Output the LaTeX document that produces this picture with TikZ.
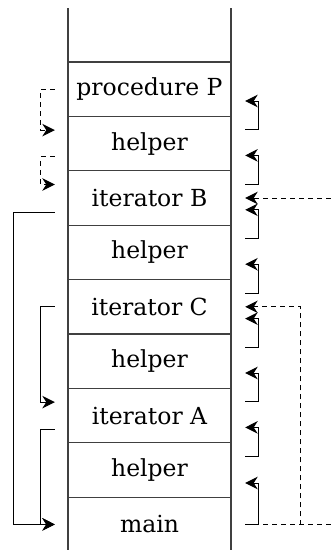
\documentclass[tikz,border=0pt]{standalone}
\usepackage{fontspec}
\setmainfont{DejaVu Serif}
\usetikzlibrary{arrows.meta,calc}
\tikzset{
  cadre/.style={line width=1.1pt, black!75},
  case/.style={minimum width=163pt, minimum height=54.4pt, inner sep=0pt, font=\fontsize{23.5}{28}\selectfont},
  retour/.style={line width=1pt, arrows={-Stealth[length=12.5pt,width=12.5pt,inset=4pt]}},
  appel/.style={retour, dash pattern=on 5pt off 4pt},
}
\begin{document}
\begin{tikzpicture}[x=1pt,y=-1pt]
	\useasboundingbox (0,0) rectangle (331,550);
	% la pile
	\draw[cadre] (68,8) -- (68,550);
	\draw[cadre] (231,8) -- (231,550);
	\foreach \i in {0,...,8}
		\draw[cadre] (68,62+54.4*\i) -- (231,62+54.4*\i);
	\foreach \nom [count=\i from 0] in {procedure P,helper,iterator B,helper,iterator C,helper,iterator A,helper,main}
		\node[case] (r\i) at (149.5,89.2+54.4*\i) {\nom};
	% les retours a droite
	\foreach \i [evaluate=\i as \j using int(\i+1)] in {0,...,6}
		\draw[retour] ($(r\j.east)+(14,-13.7)$) -| ($(r\i.east)+(27,11.8)$) -- ($(r\i.east)+(14,11.8)$);
	\draw[retour] ($(r8.east)+(14,0)$) -| ($(r7.east)+(27,13)$) -- ($(r7.east)+(14,13)$);
	% les appels en pointille
	\draw[appel] ($(r8.east)+(14,0)$) -| ($(r4.east)+(69,0)$) -- ($(r4.east)+(14,0)$);
	\draw[appel] ($(r8.east)+(14,0)$) -| ($(r2.east)+(114,0)$) -- ($(r2.east)+(14,0)$);
	\draw[appel] ($(r0.west)+(-13,0)$) -| ($(r1.west)+(-27,-13.5)$) -- ($(r1.west)+(-13,-13.5)$);
	\draw[appel] ($(r1.west)+(-13,13.2)$) -| ($(r2.west)+(-27,-13.5)$) -- ($(r2.west)+(-13,-13.5)$);
	% les liens a gauche
	\draw[retour] ($(r2.west)+(-13,14)$) -| ($(r8.west)+(-54,0)$) -- ($(r8.west)+(-13,0)$);
	\draw[retour] ($(r4.west)+(-13,0)$) -| ($(r6.west)+(-27,-13.5)$) -- ($(r6.west)+(-13,-13.5)$);
	\draw[retour] ($(r6.west)+(-13,14)$) -| ($(r8.west)+(-27,0)$) -- ($(r8.west)+(-13,0)$);
\end{tikzpicture}
\end{document}
